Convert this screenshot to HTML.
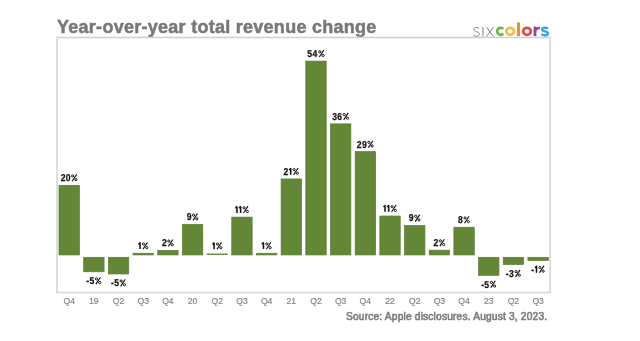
<!DOCTYPE html>
<html><head><meta charset="utf-8"><style>
html,body{margin:0;padding:0;background:#fff;width:640px;height:341px;overflow:hidden;position:relative}
body{font-family:"Liberation Sans",sans-serif}
svg{position:absolute;left:0;top:0;will-change:transform}
.t,.src{will-change:transform}
.t{position:absolute;left:56.5px;top:17px;font-size:18px;font-weight:bold;color:#787878;white-space:nowrap;line-height:20px;letter-spacing:0.27px;-webkit-text-stroke:0.5px #787878}
.src{position:absolute;left:346px;top:312px;font-size:10.2px;color:#7c7c7c;white-space:nowrap;line-height:10px;-webkit-text-stroke:0.6px #7c7c7c;letter-spacing:0.18px}
</style></head><body>
<div class="t">Year-over-year total revenue change</div>
<svg width="640" height="341" viewBox="0 0 640 341">
<g fill="none" stroke-linecap="butt">
<path d="M56.1 37.5 H551" stroke="#d0d0d0" stroke-width="1.3"/>
<path d="M57.05 37 V293.3" stroke="#dcdcdc" stroke-width="1.9"/>
<path d="M550.15 37 V293.3" stroke="#dcdcdc" stroke-width="1.9"/>
<path d="M57 292.5 H550.2" stroke="#d6d6d6" stroke-width="1.7"/>
</g>
<g fill="#648737" stroke="#5a7d30" stroke-width="0.7"><rect x="58.99" y="185.29" width="20.4" height="69.66"/><rect x="83.67" y="257.30" width="20.4" height="14.48"/><rect x="108.35" y="257.30" width="20.4" height="16.67"/><rect x="133.03" y="253.27" width="20.4" height="1.68"/><rect x="157.71" y="250.39" width="20.4" height="4.56"/><rect x="182.39" y="224.45" width="20.4" height="30.50"/><rect x="206.72" y="253.50" width="21.099999999999998" height="1.5" stroke="none" fill="#6f9146"/><rect x="231.75" y="217.11" width="20.4" height="37.84"/><rect x="256.43" y="253.24" width="20.4" height="1.71"/><rect x="281.11" y="178.94" width="20.4" height="76.01"/><rect x="305.79" y="61.09" width="20.4" height="193.86"/><rect x="330.47" y="123.88" width="20.4" height="131.07"/><rect x="355.15" y="151.65" width="20.4" height="103.30"/><rect x="379.83" y="216.01" width="20.4" height="38.94"/><rect x="404.51" y="225.62" width="20.4" height="29.33"/><rect x="429.19" y="250.17" width="20.4" height="4.78"/><rect x="453.87" y="227.26" width="20.4" height="27.69"/><rect x="478.55" y="257.30" width="20.4" height="18.02"/><rect x="503.23" y="257.30" width="20.4" height="7.17"/><rect x="527.91" y="257.30" width="20.4" height="3.11"/></g>
<g font-family="Liberation Sans" font-weight="bold" font-size="10.0" fill="#111" text-rendering="geometricPrecision" stroke="#111" stroke-width="0.25"><text transform="translate(60.73 181.14) scale(0.86 1)">2</text><text transform="translate(65.78 181.14) scale(0.86 1)">0</text><text transform="translate(86.25 284.03) scale(0.86 1)">-</text><text transform="translate(89.46 284.03) scale(0.86 1)">5</text><text transform="translate(110.93 286.22) scale(0.86 1)">-</text><text transform="translate(114.14 286.22) scale(0.86 1)">5</text><text transform="translate(161.97 246.24) scale(0.86 1)">2</text><text transform="translate(186.63 220.30) scale(0.86 1)">9</text><text transform="translate(283.54 174.79) scale(0.86 1)">2</text><text transform="translate(307.23 56.94) scale(0.86 1)">5</text><text transform="translate(312.60 56.94) scale(0.86 1)">4</text><text transform="translate(332.21 119.73) scale(0.86 1)">3</text><text transform="translate(337.31 119.73) scale(0.86 1)">6</text><text transform="translate(356.85 147.50) scale(0.86 1)">2</text><text transform="translate(361.94 147.50) scale(0.86 1)">9</text><text transform="translate(408.75 221.47) scale(0.86 1)">9</text><text transform="translate(433.45 246.02) scale(0.86 1)">2</text><text transform="translate(458.10 223.11) scale(0.86 1)">8</text><text transform="translate(481.13 287.57) scale(0.86 1)">-</text><text transform="translate(484.34 287.57) scale(0.86 1)">5</text><text transform="translate(505.81 276.72) scale(0.86 1)">-</text><text transform="translate(509.09 276.72) scale(0.86 1)">3</text><text transform="translate(531.28 272.66) scale(0.86 1)">-</text></g>
<g fill="none" stroke="#111" stroke-width="1.0"><g transform="translate(71.16 174.44)"><circle cx="1.5" cy="1.55" r="1.1"/><circle cx="4.8" cy="5.2" r="1.1"/><path d="M1.0 6.8 L5.5 -0.1" stroke-width="1.15"/></g><g transform="translate(94.95 277.33)"><circle cx="1.5" cy="1.55" r="1.1"/><circle cx="4.8" cy="5.2" r="1.1"/><path d="M1.0 6.8 L5.5 -0.1" stroke-width="1.15"/></g><g transform="translate(119.63 279.52)"><circle cx="1.5" cy="1.55" r="1.1"/><circle cx="4.8" cy="5.2" r="1.1"/><path d="M1.0 6.8 L5.5 -0.1" stroke-width="1.15"/></g><g transform="translate(141.95 242.42)"><circle cx="1.5" cy="1.55" r="1.1"/><circle cx="4.8" cy="5.2" r="1.1"/><path d="M1.0 6.8 L5.5 -0.1" stroke-width="1.15"/></g><g transform="translate(167.36 239.54)"><circle cx="1.5" cy="1.55" r="1.1"/><circle cx="4.8" cy="5.2" r="1.1"/><path d="M1.0 6.8 L5.5 -0.1" stroke-width="1.15"/></g><g transform="translate(192.05 213.60)"><circle cx="1.5" cy="1.55" r="1.1"/><circle cx="4.8" cy="5.2" r="1.1"/><path d="M1.0 6.8 L5.5 -0.1" stroke-width="1.15"/></g><g transform="translate(215.99 242.50)"><circle cx="1.5" cy="1.55" r="1.1"/><circle cx="4.8" cy="5.2" r="1.1"/><path d="M1.0 6.8 L5.5 -0.1" stroke-width="1.15"/></g><g transform="translate(242.50 206.26)"><circle cx="1.5" cy="1.55" r="1.1"/><circle cx="4.8" cy="5.2" r="1.1"/><path d="M1.0 6.8 L5.5 -0.1" stroke-width="1.15"/></g><g transform="translate(265.35 242.39)"><circle cx="1.5" cy="1.55" r="1.1"/><circle cx="4.8" cy="5.2" r="1.1"/><path d="M1.0 6.8 L5.5 -0.1" stroke-width="1.15"/></g><g transform="translate(292.58 168.09)"><circle cx="1.5" cy="1.55" r="1.1"/><circle cx="4.8" cy="5.2" r="1.1"/><path d="M1.0 6.8 L5.5 -0.1" stroke-width="1.15"/></g><g transform="translate(318.28 50.24)"><circle cx="1.5" cy="1.55" r="1.1"/><circle cx="4.8" cy="5.2" r="1.1"/><path d="M1.0 6.8 L5.5 -0.1" stroke-width="1.15"/></g><g transform="translate(342.74 113.03)"><circle cx="1.5" cy="1.55" r="1.1"/><circle cx="4.8" cy="5.2" r="1.1"/><path d="M1.0 6.8 L5.5 -0.1" stroke-width="1.15"/></g><g transform="translate(367.35 140.80)"><circle cx="1.5" cy="1.55" r="1.1"/><circle cx="4.8" cy="5.2" r="1.1"/><path d="M1.0 6.8 L5.5 -0.1" stroke-width="1.15"/></g><g transform="translate(390.58 205.16)"><circle cx="1.5" cy="1.55" r="1.1"/><circle cx="4.8" cy="5.2" r="1.1"/><path d="M1.0 6.8 L5.5 -0.1" stroke-width="1.15"/></g><g transform="translate(414.17 214.77)"><circle cx="1.5" cy="1.55" r="1.1"/><circle cx="4.8" cy="5.2" r="1.1"/><path d="M1.0 6.8 L5.5 -0.1" stroke-width="1.15"/></g><g transform="translate(438.84 239.32)"><circle cx="1.5" cy="1.55" r="1.1"/><circle cx="4.8" cy="5.2" r="1.1"/><path d="M1.0 6.8 L5.5 -0.1" stroke-width="1.15"/></g><g transform="translate(463.57 216.41)"><circle cx="1.5" cy="1.55" r="1.1"/><circle cx="4.8" cy="5.2" r="1.1"/><path d="M1.0 6.8 L5.5 -0.1" stroke-width="1.15"/></g><g transform="translate(489.83 280.87)"><circle cx="1.5" cy="1.55" r="1.1"/><circle cx="4.8" cy="5.2" r="1.1"/><path d="M1.0 6.8 L5.5 -0.1" stroke-width="1.15"/></g><g transform="translate(514.51 270.02)"><circle cx="1.5" cy="1.55" r="1.1"/><circle cx="4.8" cy="5.2" r="1.1"/><path d="M1.0 6.8 L5.5 -0.1" stroke-width="1.15"/></g><g transform="translate(538.40 265.96)"><circle cx="1.5" cy="1.55" r="1.1"/><circle cx="4.8" cy="5.2" r="1.1"/><path d="M1.0 6.8 L5.5 -0.1" stroke-width="1.15"/></g></g>
<g fill="none" stroke="#111" stroke-width="1.55" stroke-linejoin="round"><path d="M140.05 249.12 V242.82 L138.50 244.22"/><path d="M214.09 249.20 V242.90 L212.54 244.30"/><path d="M236.95 212.96 V206.66 L235.40 208.06"/><path d="M240.60 212.96 V206.66 L239.05 208.06"/><path d="M263.45 249.09 V242.79 L261.90 244.19"/><path d="M290.68 174.79 V168.49 L289.13 169.89"/><path d="M385.03 211.86 V205.56 L383.48 206.96"/><path d="M388.68 211.86 V205.56 L387.13 206.96"/><path d="M536.50 272.66 V266.36 L534.95 267.76"/></g>
<g font-family="Liberation Sans" font-size="8.6" fill="#858585" stroke="#858585" stroke-width="0.2" text-anchor="middle"><text x="69.19" y="304.1">Q4</text><text x="93.87" y="304.1">19</text><text x="118.55" y="304.1">Q2</text><text x="143.23" y="304.1">Q3</text><text x="167.91" y="304.1">Q4</text><text x="192.59" y="304.1">20</text><text x="217.27" y="304.1">Q2</text><text x="241.95" y="304.1">Q3</text><text x="266.63" y="304.1">Q4</text><text x="291.31" y="304.1">21</text><text x="315.99" y="304.1">Q2</text><text x="340.67" y="304.1">Q3</text><text x="365.35" y="304.1">Q4</text><text x="390.03" y="304.1">22</text><text x="414.71" y="304.1">Q2</text><text x="439.39" y="304.1">Q3</text><text x="464.07" y="304.1">Q4</text><text x="488.75" y="304.1">23</text><text x="513.43" y="304.1">Q2</text><text x="538.11" y="304.1">Q3</text></g>
<g fill="none" stroke-linecap="butt">
<g stroke="#808080" stroke-width="1.0">
<path d="M479.2 28.7 C478.6 27.8 477.6 27.4 476.5 27.4 C474.9 27.4 473.9 28.2 473.9 29.5 C473.9 31 475.3 31.4 476.6 31.8 C478.1 32.2 479.4 32.7 479.4 34.3 C479.4 35.6 478.2 36.3 476.5 36.3 C475.2 36.3 474.1 35.8 473.5 34.9"/>
<path d="M483 27 V36.6"/>
<path d="M486.4 27.1 L493.5 36.6 M493.4 27.1 L486.5 36.6"/>
</g>
<path stroke="#6fb548" stroke-width="2.7" d="M503.3 28.9 A3.55 3.55 0 1 0 503.3 33.8"/>
<ellipse stroke="#f7bd40" stroke-width="2.7" cx="510.1" cy="31.35" rx="3.85" ry="3.55"/>
<rect fill="#ee8d33" stroke="none" x="517" y="22.4" width="3.1" height="13.7"/>
<ellipse stroke="#dd4b44" stroke-width="2.7" cx="527" cy="31.35" rx="3.85" ry="3.55"/>
<rect fill="#8b4aa0" stroke="none" x="533.6" y="26.6" width="2.8" height="9.5"/>
<path stroke="#8b4aa0" stroke-width="2.5" d="M535 32 C535 28.8 536.8 27.9 539.9 27.9"/>
<path stroke="#41a4df" stroke-width="2.4" d="M547.9 28.8 C547.1 27.9 546.1 27.8 544.9 27.8 C543.2 27.8 542.1 28.5 542.1 29.5 C542.1 30.8 543.6 31.1 545.1 31.4 C546.8 31.8 548 32.3 548 33.7 C548 34.9 546.8 35.3 544.9 35.3 C543.4 35.3 542.2 34.9 541.3 34"/>
</g>
</svg>
<div class="src">Source: Apple disclosures. August 3, 2023.</div>
</body></html>
